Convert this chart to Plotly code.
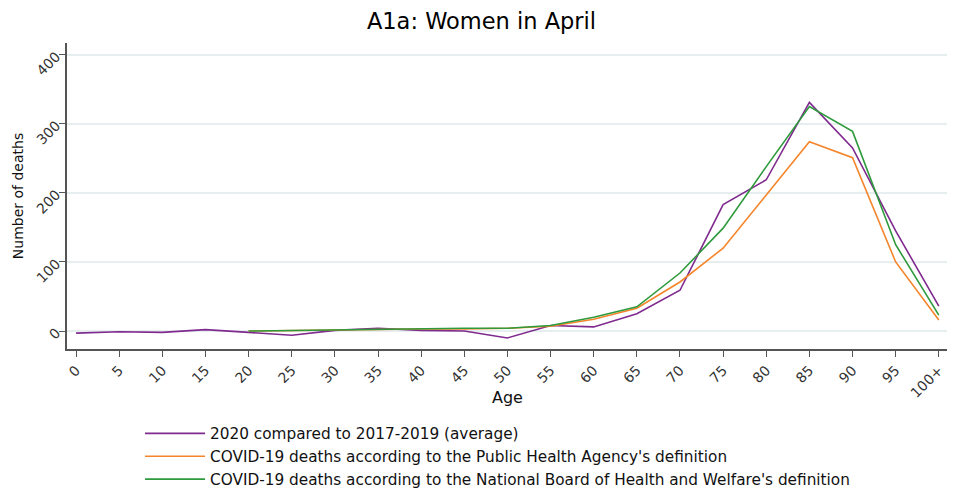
import plotly.graph_objects as go

# Age groups (5-year bands) and deaths per group
ages = ["0", "5", "10", "15", "20", "25", "30", "35", "40", "45", "50",
        "55", "60", "65", "70", "75", "80", "85", "90", "95", "100+"]

excess_2020 = [-3, -1, -2, 2, -2, -6, 1, 4, 1, 0, -10,
               8, 6, 25, 59, 183, 219, 331, 265, 145, 36]

ages_covid = ages[4:]
covid_pha = [0, 1, 2, 3, 3, 3, 4, 7, 17, 33, 71, 120, 197, 274, 251, 100, 16]
covid_nbhw = [0, 1, 2, 3, 4, 4, 4, 8, 20, 35, 84, 149, 238, 325, 289, 125, 23]

series_names = [
    "2020 compared to 2017-2019 (average)",
    "COVID-19 deaths according to the Public Health Agency's definition",
    "COVID-19 deaths according to the National Board of Health and Welfare's definition",
]
colors = ["#7f2a8e", "#f5852b", "#2e9a3c"]

fig = go.Figure()
fig.add_trace(go.Scatter(x=ages, y=excess_2020, mode="lines", name=series_names[0],
                         line=dict(color=colors[0], width=1.6)))
fig.add_trace(go.Scatter(x=ages_covid, y=covid_pha, mode="lines", name=series_names[1],
                         line=dict(color=colors[1], width=1.6)))
fig.add_trace(go.Scatter(x=ages_covid, y=covid_nbhw, mode="lines", name=series_names[2],
                         line=dict(color=colors[2], width=1.6)))

FONT = "DejaVu Sans, Liberation Sans, Arial, sans-serif"
axis_font = dict(family=FONT, size=14, color="#333")

# page body has an 8px margin, so the figure is sized/offset to compensate
fig.update_layout(
    width=947, height=483,
    margin=dict(l=59, r=8, t=35, b=142, autoexpand=False),
    paper_bgcolor="white", plot_bgcolor="white",
    font=dict(family=FONT, color="#111"),
    title=dict(text="A1a: Women in April", x=0.5, xanchor="center", y=0.972, yanchor="middle",
               font=dict(size=22.5, color="#000")),
    legend=dict(x=0.083, y=-0.222, xanchor="left", yanchor="top",
                font=dict(size=15.3, color="#111"), tracegroupgap=0,
                itemwidth=60, bgcolor="rgba(0,0,0,0)"),
    showlegend=True,
)

# x-axis title placed as an annotation so it can sit closer to the tick labels
fig.add_annotation(text="Age", xref="paper", yref="paper", x=0.5, y=-0.157,
                   xanchor="center", yanchor="middle", showarrow=False,
                   font=dict(family=FONT, size=16, color="#111"))

fig.update_xaxes(
    type="category", categoryorder="array", categoryarray=ages,
    range=[-0.21, 20.19], automargin=False,
    showline=True, linecolor="#555", linewidth=1.5,
    ticks="outside", ticklen=6, tickcolor="#555", tickwidth=1.2,
    tickangle=-45, tickfont=axis_font,
    showgrid=False, zeroline=False,
)
fig.update_yaxes(
    range=[-26, 417], automargin=False,
    tickvals=[0, 100, 200, 300, 400],
    showline=True, linecolor="#555", linewidth=1.5,
    ticks="outside", ticklen=6, tickcolor="#555", tickwidth=1.2,
    tickangle=-45, tickfont=axis_font,
    showgrid=True, gridcolor="#e6eef0", gridwidth=1.5, zeroline=False,
    title=dict(text="Number of deaths", font=dict(size=14, color="#111"), standoff=6),
)

fig.write_html("out.html")
